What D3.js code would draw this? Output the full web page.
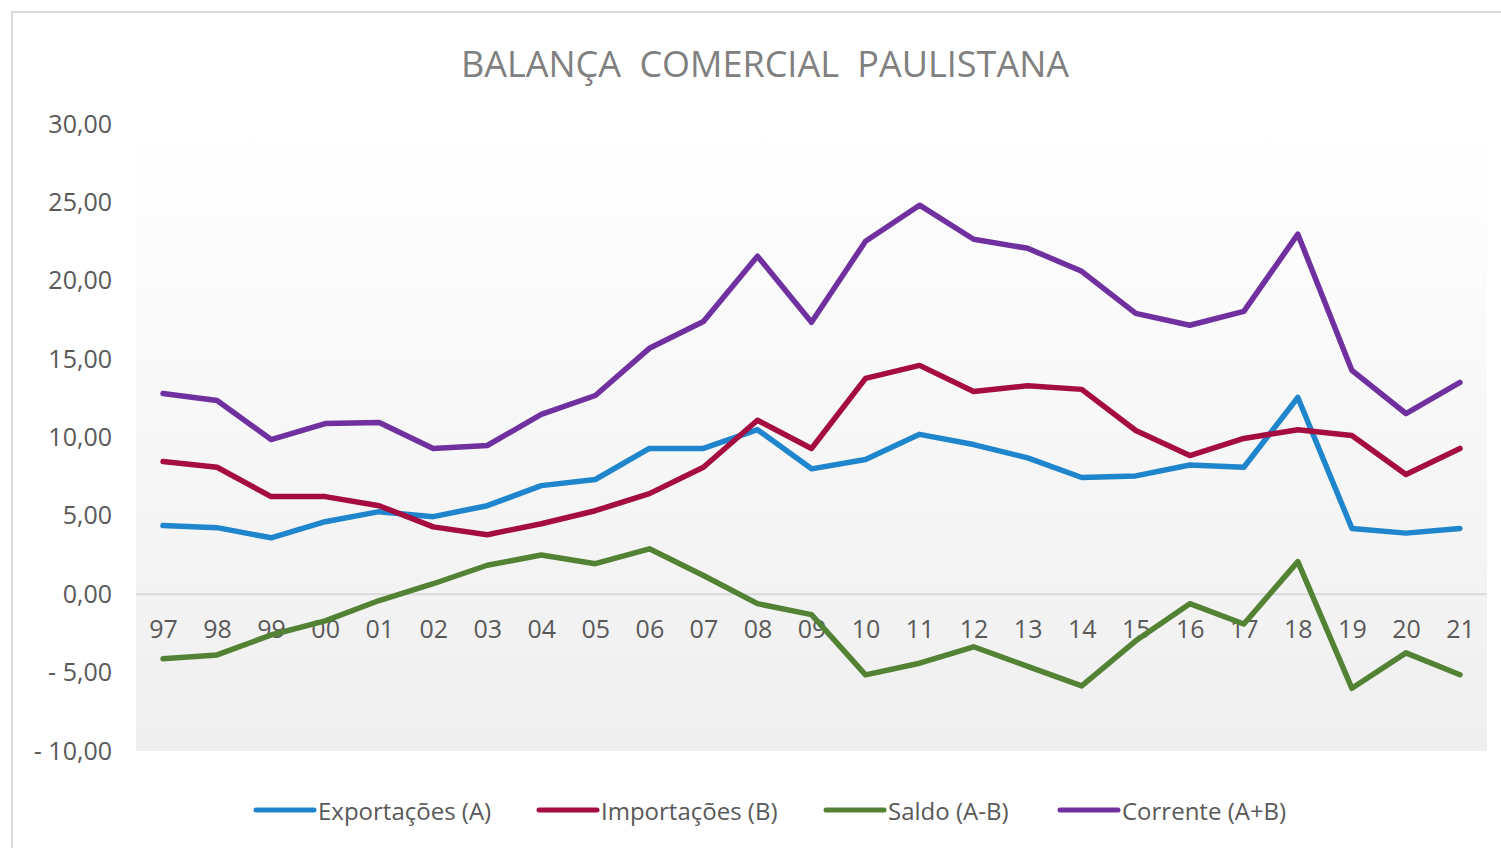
<!DOCTYPE html>
<html>
<head>
<meta charset="utf-8">
<script src="https://cdn.jsdelivr.net/npm/d3@7"></script>
<style>
  body { margin: 0; background: #ffffff; }
  svg { display: block; }
  text { font-family: "Open Sans", "DejaVu Sans", sans-serif; fill: #595959; }
</style>
</head>
<body>
<div id="chart"></div>
<script>
// years (x categories)
var years = ["97","98","99","00","01","02","03","04","05","06","07","08","09",
             "10","11","12","13","14","15","16","17","18","19","20","21"];

// series values
var exportacoes = [4.38, 4.25, 3.60, 4.63, 5.27, 4.95, 5.65, 6.93, 7.32, 9.30, 9.30, 10.50, 8.00,
                   8.60, 10.20, 9.55, 8.70, 7.45, 7.55, 8.25, 8.10, 12.55, 4.20, 3.90, 4.20];
var importacoes = [8.47, 8.10, 6.23, 6.23, 5.65, 4.30, 3.80, 4.50, 5.33, 6.42, 8.10, 11.10, 9.30,
                   13.77, 14.60, 12.94, 13.30, 13.07, 10.45, 8.85, 9.94, 10.50, 10.13, 7.64, 9.30];
var saldo = [-4.12, -3.87, -2.60, -1.70, -0.40, 0.67, 1.85, 2.50, 1.95, 2.90, 1.20, -0.60, -1.30,
             -5.14, -4.40, -3.35, -4.60, -5.85, -2.97, -0.60, -1.90, 2.08, -6.00, -3.74, -5.14];
var corrente = [12.81, 12.36, 9.87, 10.89, 10.96, 9.30, 9.49, 11.47, 12.68, 15.69, 17.40, 21.57, 17.35,
                22.52, 24.82, 22.65, 22.07, 20.60, 17.92, 17.16, 18.05, 22.97, 14.28, 11.53, 13.52];

var seriesNames = ["Exportações (A)", "Importações (B)", "Saldo (A-B)", "Corrente (A+B)"];
var seriesColors = ["#1f85cc", "#a50d40", "#548235", "#7030a0"];
var yTicks = [-10, -5, 0, 5, 10, 15, 20, 25, 30];

var svgWidth = 1501;
var svgHeight = 848;

var margin = { top: 124, bottom: 97, right: 14, left: 136 };
var width = svgWidth - margin.left - margin.right;
var height = svgHeight - margin.top - margin.bottom;

var svg = d3.select("#chart")
  .append("svg")
  .attr("width", svgWidth)
  .attr("height", svgHeight);

// gradient for plot area
var defs = svg.append("defs");
var grad = defs.append("linearGradient")
  .attr("id", "plotGrad")
  .attr("x1", 0).attr("y1", 0).attr("x2", 0).attr("y2", 1);
grad.append("stop").attr("offset", "0%").attr("stop-color", "#ffffff");
grad.append("stop").attr("offset", "100%").attr("stop-color", "#efefef");

// outer frame
svg.append("rect")
  .attr("x", 12).attr("y", 12)
  .attr("width", svgWidth + 20).attr("height", svgHeight + 20)
  .attr("fill", "#ffffff")
  .attr("stroke", "#d9d9d9")
  .attr("stroke-width", 2);

var chartGroup = svg.append("g")
  .attr("transform", `translate(${margin.left}, ${margin.top})`);

var xScale = d3.scalePoint()
  .domain(years)
  .range([0, width])
  .padding(0.5);

var yScale = d3.scaleLinear()
  .domain([-10, 30])
  .range([height, 0]);

chartGroup.append("rect")
  .attr("x", 0).attr("y", 0)
  .attr("width", width).attr("height", height)
  .attr("fill", "url(#plotGrad)");

// zero line
chartGroup.append("line")
  .attr("x1", 0).attr("x2", width)
  .attr("y1", yScale(0)).attr("y2", yScale(0))
  .attr("stroke", "#d9d9d9")
  .attr("stroke-width", 2);

// y axis labels
var fmt = function(v) {
  var s = Math.abs(v).toFixed(2).replace(".", ",");
  return v < 0 ? "- " + s : s;
};
var leftAxis = d3.axisLeft(yScale)
  .tickValues(yTicks)
  .tickFormat(fmt)
  .tickSize(0)
  .tickPadding(24);
var yAxisG = chartGroup.append("g").call(leftAxis);
yAxisG.select(".domain").remove();
yAxisG.selectAll("text")
  .style("font-size", "25px")
  .attr("fill", "#595959");

// x axis labels just under the zero line
var bottomAxis = d3.axisBottom(xScale).tickSize(0).tickPadding(26);
var xAxisG = chartGroup.append("g")
  .attr("transform", `translate(0, ${yScale(0)})`)
  .call(bottomAxis);
xAxisG.select(".domain").remove();
xAxisG.selectAll("text")
  .style("font-size", "25px")
  .attr("fill", "#595959");

// lines
var allSeries = [exportacoes, importacoes, saldo, corrente];
var line = d3.line()
  .x(function(d, i) { return xScale(years[i]); })
  .y(function(d) { return yScale(d); });

var linesG = svg.append("g")
  .attr("transform", `translate(${margin.left}, ${margin.top})`);
allSeries.forEach(function(s, i) {
  linesG.append("path")
    .datum(s)
    .attr("d", line)
    .attr("fill", "none")
    .attr("stroke", seriesColors[i])
    .attr("stroke-width", 5.5)
    .attr("stroke-linejoin", "round")
    .attr("stroke-linecap", "round");
});

// title
svg.append("text")
  .attr("x", 765)
  .attr("y", 63)
  .attr("text-anchor", "middle")
  .attr("dominant-baseline", "central")
  .style("font-size", "36px")
  .style("word-spacing", "9px")
  .style("fill", "#808080")
  .text("BALANÇA COMERCIAL PAULISTANA");

// legend
var legendX = [254, 537, 824, 1058];
var legend = svg.append("g").attr("transform", "translate(0, 810)");
seriesNames.forEach(function(name, i) {
  var g = legend.append("g").attr("transform", `translate(${legendX[i]}, 0)`);
  g.append("line")
    .attr("x1", 2).attr("x2", 60)
    .attr("y1", 0).attr("y2", 0)
    .attr("stroke", seriesColors[i])
    .attr("stroke-width", 5)
    .attr("stroke-linecap", "round");
  g.append("text")
    .attr("x", 64)
    .attr("y", 0)
    .attr("dominant-baseline", "central")
    .style("font-size", "24px")
    .text(name);
});
</script>
</body>
</html>
